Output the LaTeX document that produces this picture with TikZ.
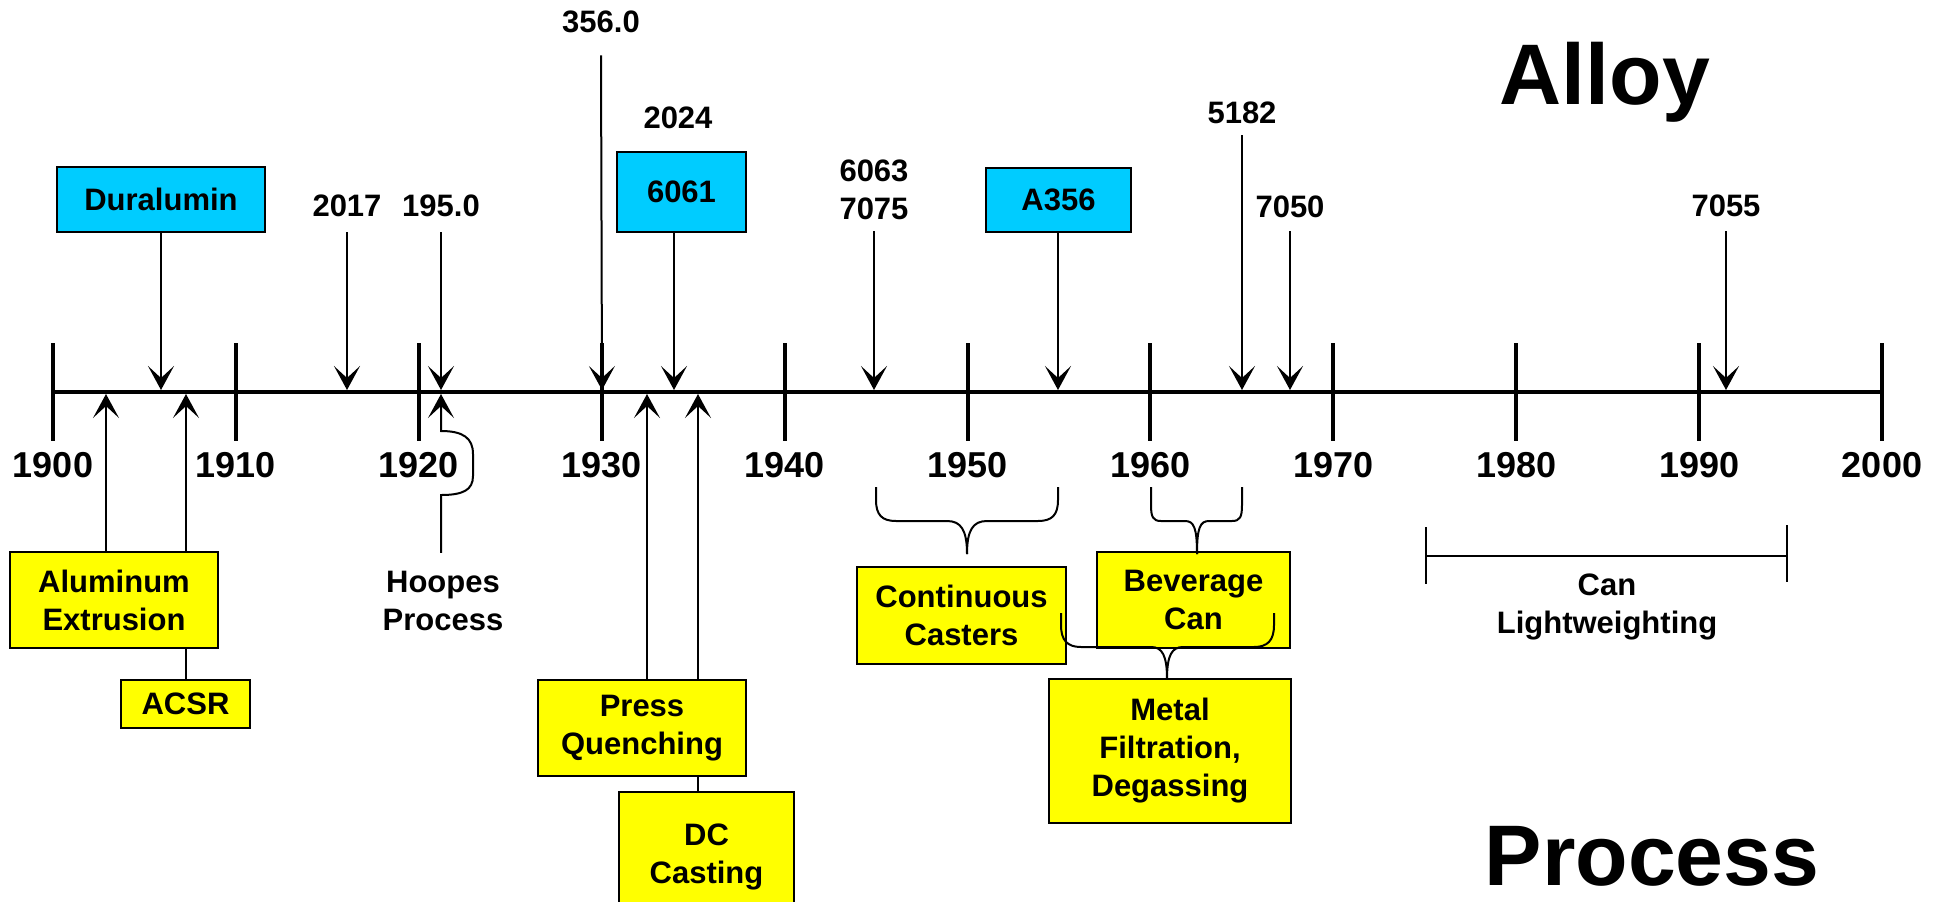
\documentclass[tikz,border=0pt]{standalone}
\usepackage{fontspec}
\setmainfont{Liberation Sans}
\usetikzlibrary{arrows.meta,backgrounds}
\definecolor{boxcyan}{HTML}{00CCFF}
\definecolor{boxyellow}{HTML}{FFFF00}
\begin{document}
\begin{tikzpicture}[x=0.5pt,y=-0.5pt,
  lbl/.style={inner sep=0pt, font=\fontsize{15.5}{19}\selectfont\bfseries, align=center},
  yr/.style={inner sep=0pt, font=\fontsize{18}{22}\selectfont\bfseries},
  big/.style={inner sep=0pt, font=\fontsize{43}{50}\selectfont\bfseries},
  cbox/.style={lbl, draw, line width=1.2pt, fill=boxcyan},
  ybox/.style={lbl, draw, line width=1.2pt, fill=boxyellow},
  conn/.style={line width=1pt},
  arr/.style={conn, -{Stealth[length=12pt,width=13pt,inset=6pt]}},
  axisline/.style={line width=2pt},
  tickline/.style={line width=2pt},
  brace/.style={line width=1pt},
  spanline/.style={line width=1pt}]
\clip (0,0) rectangle (1944,901);
\begin{pgfonlayer}{background}
\fill[white] (0,0) rectangle (1944,901);
\end{pgfonlayer}

% axis
\coordinate (ax0) at (53,392);
\coordinate (ax1) at (1882,392);
\draw[axisline] (ax0) -- (ax1);
\foreach \i in {0,...,10} {
  \pgfmathsetmacro\xx{53+182.9*\i}
  \draw[tickline] (\xx,343) -- (\xx,441);
  \node[yr] (yr\i) at (\xx,465) {\the\numexpr1900+10*\i\relax};
}

% axis tip coordinates
\coordinate (tdur) at (161,390);
\coordinate (t2017) at (347,390);
\coordinate (t195) at (441,390);
\coordinate (t356) at (602,390);
\coordinate (t6061) at (674,390);
\coordinate (t6063) at (874,390);
\coordinate (ta356) at (1058,390);
\coordinate (t5182) at (1242,390);
\coordinate (t7050) at (1290,390);
\coordinate (t7055) at (1726,390);
\coordinate (tae) at (106,394);
\coordinate (tacsr) at (186,394);
\coordinate (thp) at (441,394);
\coordinate (tpq) at (647,394);
\coordinate (tdc) at (698,394);

% alloy side
\node[cbox, minimum width=104pt, minimum height=32.5pt] (dur) at (161,199.5) {Duralumin};
\node[cbox, minimum width=64.5pt, minimum height=40pt] (b6061) at (681.5,192) {6061};
\node[cbox, minimum width=72.5pt, minimum height=32pt] (a356) at (1058.5,200) {A356};
\node[lbl] (l2017) at (347,206) {2017};
\node[lbl] (l195) at (441,206) {195.0};
\node[lbl] (l356) at (601,22) {356.0};
\node[lbl] (l2024) at (678,118) {2024};
\node[lbl] (l6063) at (874,190) {6063\\7075};
\node[lbl] (l5182) at (1242,113) {5182};
\node[lbl] (l7050) at (1290,207) {7050};
\node[lbl] (l7055) at (1726,206) {7055};
\node[big, anchor=base] (alloy) at (1605,104) {Alloy};

\draw[arr] (dur.south) -- (tdur);
\draw[arr] ([yshift=-7.5pt]l2017.south) -- (t2017);
\draw[arr] ([yshift=-7.5pt]l195.south) -- (t195);
\draw[arr] ([yshift=-11pt]l356.south) -- (t356);
\draw[arr] (b6061.south -| t6061) -- (t6061);
\draw[arr] ([yshift=-5.5pt]l6063.south) -- (t6063);
\draw[arr] (a356.south -| ta356) -- (ta356);
\draw[arr] ([yshift=-5.5pt]l5182.south) -- (t5182);
\draw[arr] ([yshift=-6.5pt]l7050.south) -- (t7050);
\draw[arr] ([yshift=-7pt]l7055.south) -- (t7055);

% process side
\node[ybox, minimum width=104pt, minimum height=48pt] (ae) at (114,600) {Aluminum\\Extrusion};
\node[ybox, minimum width=64.5pt, minimum height=24pt] (acsr) at (185.5,704) {ACSR};
\node[ybox, minimum width=104pt, minimum height=48pt] (pq) at (642,728) {Press\\Quenching};
\node[ybox, minimum width=87.5pt, minimum height=65pt] (dc) at (706.5,857) {DC\\Casting};
\node[ybox, minimum width=104.5pt, minimum height=48.5pt] (cc) at (961.5,615.5) {Continuous\\Casters};
\node[ybox, minimum width=96.5pt, minimum height=48pt] (bc) at (1193.5,600) {Beverage\\Can};
\node[ybox, minimum width=121pt, minimum height=72pt] (mf) at (1170,751) {Metal\\Filtration,\\Degassing};
\node[lbl] (hoopes) at (443,601) {Hoopes\\Process};
\node[lbl] (canlw) at (1607,607) {Can\\Lightweighting};
\node[big, anchor=base] (process) at (1652,885) {Process};

\begin{pgfonlayer}{background}
\draw[arr] (ae.north -| tae) -- (tae);
\draw[arr] (acsr.north -| tacsr) -- (tacsr);
\draw[arr] (pq.north -| tpq) -- (tpq);
\draw[arr] (dc.north -| tdc) -- (tdc);
\end{pgfonlayer}

\draw[arr] ([yshift=9pt]hoopes.north -| thp) -- (441,495)
  .. controls (463,495) and (473,490) .. (473,476) -- (473,454)
  .. controls (473,438) and (463,431) .. (441,431) -- (thp);

% braces
\draw[brace] (876,487) -- (876,500) .. controls (876,515) and (882,521) .. (896,521) -- (947,521)
  .. controls (961,521) and (967,530) .. (967,554);
\draw[brace] (1058,487) -- (1058,500) .. controls (1058,515) and (1052,521) .. (1038,521) -- (987,521)
  .. controls (973,521) and (967,530) .. (967,554);
\draw[brace] (1151,487) -- (1151,505) .. controls (1151,517) and (1153,521) .. (1161,521) -- (1185,521)
  .. controls (1194,521) and (1197,528) .. (1197,554);
\draw[brace] (1242,487) -- (1242,505) .. controls (1242,517) and (1240,521) .. (1232,521) -- (1209,521)
  .. controls (1200,521) and (1197,528) .. (1197,554);
\draw[brace] (1061,613) -- (1061,625) .. controls (1061,640) and (1067,647) .. (1081,647) -- (1151,647)
  .. controls (1162,647) and (1167,655) .. (1167,679);
\draw[brace] (1274,613) -- (1274,625) .. controls (1274,640) and (1268,647) .. (1254,647) -- (1183,647)
  .. controls (1172,647) and (1167,655) .. (1167,679);

% can lightweighting span
\coordinate (cl0) at (1426,556);
\coordinate (cl1) at (1787,556);
\draw[spanline] (cl0) -- (cl1);
\draw[spanline] (1426,527) -- (1426,584);
\draw[spanline] (1787,525) -- (1787,582);
\end{tikzpicture}
\end{document}
